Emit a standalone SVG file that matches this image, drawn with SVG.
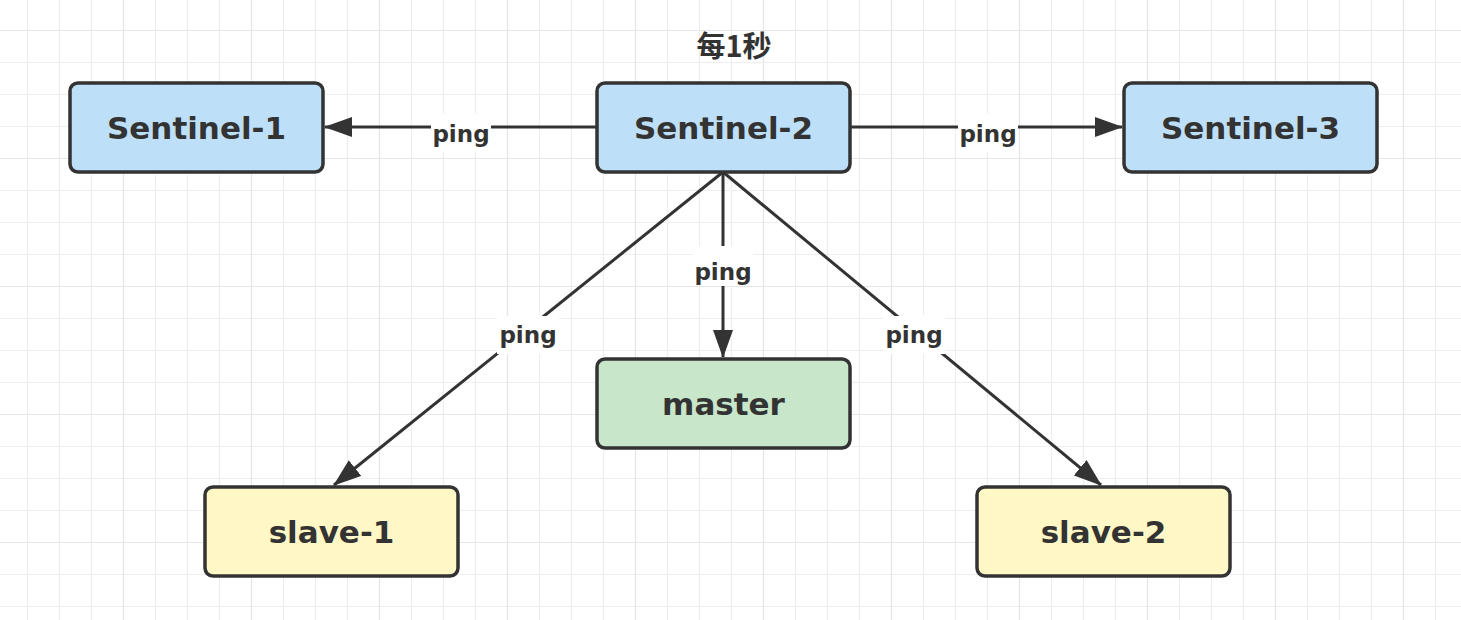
<svg xmlns="http://www.w3.org/2000/svg" width="1461" height="620" viewBox="0 0 1461 620">
<style>
.node rect{stroke:#333333;stroke-width:3.5}
.blue{fill:#bddff8}
.green{fill:#c8e6c9}
.yellow{fill:#fff8c6}
.lbl{font-family:"DejaVu Sans","Noto Sans",sans-serif;font-weight:bold;font-size:31px;fill:#333333;text-anchor:middle}
.ping{font-family:"DejaVu Sans","Noto Sans",sans-serif;font-weight:bold;font-size:23px;fill:#333333;text-anchor:middle}
.edge{stroke:#333333;stroke-width:3;fill:none}
.bg{fill:#ffffff}
</style>
<defs>
<pattern id="grid" patternUnits="userSpaceOnUse" x="27" y="30" width="128" height="128">
<path d="M0.5 0V128M32.5 0V128M64.5 0V128M96.5 0V128M0 0.5H128M0 32.5H128M0 64.5H128M0 96.5H128" stroke="#eeeeee" stroke-width="1.2" fill="none"/>
<path d="M96.5 0V128M0 0.5H128" stroke="#e6e6e6" stroke-width="1.2" fill="none"/>
</pattern>
<marker id="arr" markerUnits="userSpaceOnUse" markerWidth="28" markerHeight="20" refX="27" refY="10" orient="auto">
<path d="M0 0L28 10L0 20z" fill="#333333"/>
</marker>
</defs>
<rect width="1461" height="620" fill="#ffffff"/>
<rect width="1461" height="620" fill="url(#grid)"/>
<g id="edges">
<line class="edge" x1="597" y1="127" x2="325" y2="127" marker-end="url(#arr)"/>
<line class="edge" x1="850" y1="127" x2="1122" y2="127" marker-end="url(#arr)"/>
<line class="edge" x1="723" y1="172" x2="723" y2="357" marker-end="url(#arr)"/>
<line class="edge" x1="723" y1="172" x2="334" y2="485" marker-end="url(#arr)"/>
<line class="edge" x1="723" y1="172" x2="1101" y2="485" marker-end="url(#arr)"/>
<rect class="bg" x="431" y="114" width="60" height="38"/>
<text class="ping" x="461" y="142">ping</text>
<rect class="bg" x="958" y="114" width="60" height="38"/>
<text class="ping" x="988" y="142">ping</text>
<rect class="bg" x="693" y="246" width="60" height="40"/>
<text class="ping" x="723" y="280">ping</text>
<rect class="bg" x="497" y="316" width="62" height="38"/>
<text class="ping" x="528" y="343">ping</text>
<rect class="bg" x="883" y="316" width="62" height="38"/>
<text class="ping" x="914" y="343">ping</text>
</g>
<text x="734" y="57" style="font-family:'Noto Sans CJK SC','DejaVu Sans',sans-serif;font-weight:bold;font-size:29px;fill:#333333;text-anchor:middle">每1秒</text>
<g id="sentinel1" class="node">
<rect class="blue" x="70" y="83" width="253" height="89" rx="8"/>
<text class="lbl" x="196.5" y="139">Sentinel-1</text>
</g>
<g id="sentinel2" class="node">
<rect class="blue" x="597" y="83" width="253" height="89" rx="8"/>
<text class="lbl" x="723.5" y="139">Sentinel-2</text>
</g>
<g id="sentinel3" class="node">
<rect class="blue" x="1124" y="83" width="253" height="89" rx="8"/>
<text class="lbl" x="1250.5" y="139">Sentinel-3</text>
</g>
<g id="master" class="node">
<rect class="green" x="597" y="359" width="253" height="89" rx="8"/>
<text class="lbl" x="723.5" y="415">master</text>
</g>
<g id="slave1" class="node">
<rect class="yellow" x="205" y="487" width="253" height="89" rx="8"/>
<text class="lbl" x="331.5" y="543">slave-1</text>
</g>
<g id="slave2" class="node">
<rect class="yellow" x="977" y="487" width="253" height="89" rx="8"/>
<text class="lbl" x="1103.5" y="543">slave-2</text>
</g>
</svg>
